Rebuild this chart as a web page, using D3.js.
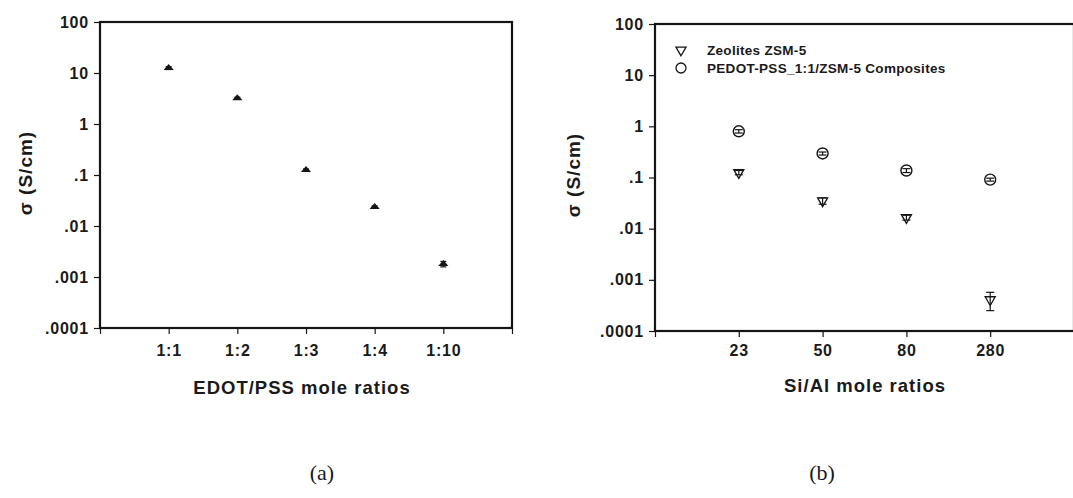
<!DOCTYPE html>
<html>
<head>
<meta charset="utf-8">
<script src="https://cdn.jsdelivr.net/npm/d3@7"></script>
<style>
  html, body { margin: 0; padding: 0; background: #fff; }
  svg text { font-family: "Liberation Sans", Arial, sans-serif; fill: #1a1a1a; }
</style>
</head>
<body>
<svg id="fig" width="1073" height="498"></svg>
<script>
// Panel (a): conductivity of PEDOT-PSS films vs EDOT/PSS mole ratio
const ratioCats = ["1:1", "1:2", "1:3", "1:4", "1:10"];
const ratioSigma = [12.5, 3.2, 0.125, 0.0235, 0.0018];
const ratioErr = [0.8, 0.15, 0.006, 0.0012, 0.00022];

// Panel (b): zeolites and composites vs Si/Al mole ratio
const siAlCats = ["23", "50", "80", "280"];
const zeoliteSigma = [0.125, 0.035, 0.0165, 0.00041];
const zeoliteErr = [0.012, 0.005, 0.0018, 0.00016];
const compositeSigma = [0.8, 0.295, 0.137, 0.091];
const compositeErr = [0.06, 0.02, 0.012, 0.006];

const yTickValues = [100, 10, 1, 0.1, 0.01, 0.001, 0.0001];
const yTickLabels = ["100", "10", "1", ".1", ".01", ".001", ".0001"];

const legendLabels = ["Zeolites ZSM-5", "PEDOT-PSS_1:1/ZSM-5 Composites"];
const captions = ["(a)", "(b)"];

const svg = d3.select("#fig");
const ink = "#151515";

function drawPanel(cfg) {
  const g = svg.append("g");
  const x = d3.scaleLinear().domain([-1, cfg.cats.length]).range([cfg.left, cfg.right]);
  const y = d3.scaleLog().domain([1e-4, 100]).range([cfg.bottom, cfg.top]);

  // y axis ticks and labels
  const yAxis = d3.axisLeft(y)
    .tickValues(yTickValues)
    .tickFormat((d, i) => yTickLabels[i])
    .tickSize(6)
    .tickPadding(5);
  const ya = g.append("g").attr("transform", `translate(${cfg.left},0)`).call(yAxis);
  ya.select(".domain").remove();
  ya.selectAll("line").attr("stroke", ink).attr("stroke-width", 1.2);
  ya.selectAll("text").attr("font-size", 16).attr("font-weight", "bold")
    .attr("letter-spacing", 0.8).attr("fill", ink);

  // x axis ticks and labels
  const xTicks = d3.range(-1, cfg.cats.length + 1);
  const xAxis = d3.axisBottom(x)
    .tickValues(xTicks)
    .tickFormat(d => (d >= 0 && d < cfg.cats.length) ? cfg.cats[d] : "")
    .tickSize(6)
    .tickPadding(cfg.xPad);
  const xa = g.append("g").attr("transform", `translate(0,${cfg.bottom})`).call(xAxis);
  xa.select(".domain").remove();
  xa.selectAll("line").attr("stroke", ink).attr("stroke-width", 1.2);
  xa.selectAll("text").attr("font-size", 16).attr("font-weight", "bold")
    .attr("letter-spacing", 0.8).attr("fill", ink);

  // plot frame
  g.append("rect")
    .attr("x", cfg.left).attr("y", cfg.top)
    .attr("width", cfg.right - cfg.left).attr("height", cfg.bottom - cfg.top)
    .attr("fill", "none").attr("stroke", ink).attr("stroke-width", 2.2);

  // axis titles
  g.append("text")
    .attr("transform", `translate(${cfg.yTitleX},${cfg.yTitleY}) rotate(-90)`)
    .attr("text-anchor", "middle").attr("dominant-baseline", "central")
    .attr("font-size", 19).attr("font-weight", "bold").attr("letter-spacing", 1)
    .attr("fill", ink)
    .text("σ (S/cm)");
  g.append("text")
    .attr("x", cfg.xTitleX).attr("y", cfg.xTitleY)
    .attr("text-anchor", "middle")
    .attr("font-size", 18.5).attr("font-weight", "bold").attr("letter-spacing", 1)
    .attr("fill", ink)
    .text(cfg.xTitle);

  return { g, x, y };
}

function errorBars(g, x, y, vals, errs, cap) {
  vals.forEach((v, i) => {
    const cx = x(i), y1 = y(v + errs[i]), y2 = y(Math.max(v - errs[i], 1e-5));
    g.append("line").attr("x1", cx).attr("x2", cx).attr("y1", y1).attr("y2", y2)
      .attr("stroke", ink).attr("stroke-width", 1.2);
    [y1, y2].forEach(yy => g.append("line")
      .attr("x1", cx - cap).attr("x2", cx + cap).attr("y1", yy).attr("y2", yy)
      .attr("stroke", ink).attr("stroke-width", 1.2));
  });
}

// ---- panel (a)
const A = drawPanel({
  cats: ratioCats, left: 100, right: 512, top: 22, bottom: 328,
  xPad: 11, yTitleX: 25, yTitleY: 173, xTitle: "EDOT/PSS mole ratios", xTitleX: 302, xTitleY: 394
});
errorBars(A.g, A.x, A.y, ratioSigma, ratioErr, 3);
A.g.selectAll(".tri").data(ratioSigma).join("path")
  .attr("d", d3.symbol(d3.symbolTriangle, 34))
  .attr("transform", (d, i) => `translate(${A.x(i)},${A.y(d)}) scale(1.15,0.8)`)
  .attr("fill", ink);

// ---- panel (b)
const B = drawPanel({
  cats: siAlCats, left: 655, right: 1074, top: 24, bottom: 331,
  xPad: 8, yTitleX: 573, yTitleY: 175, xTitle: "Si/Al mole ratios", xTitleX: 865, xTitleY: 392
});
errorBars(B.g, B.x, B.y, zeoliteSigma, zeoliteErr, 4);
errorBars(B.g, B.x, B.y, compositeSigma, compositeErr, 4);

const downTri = d3.symbol(d3.symbolTriangle, 44);
B.g.selectAll(".zeo").data(zeoliteSigma).join("path")
  .attr("d", downTri)
  .attr("transform", (d, i) => `translate(${B.x(i)},${B.y(d)}) rotate(180)`)
  .attr("fill", "none").attr("stroke", ink).attr("stroke-width", 1.3);
B.g.selectAll(".comp").data(compositeSigma).join("circle")
  .attr("cx", (d, i) => B.x(i)).attr("cy", d => B.y(d)).attr("r", 5.5)
  .attr("fill", "none").attr("stroke", ink).attr("stroke-width", 1.4);

// legend
const leg = B.g.append("g");
leg.append("path").attr("d", downTri)
  .attr("transform", "translate(681,50) rotate(180)")
  .attr("fill", "none").attr("stroke", ink).attr("stroke-width", 1.3);
leg.append("circle").attr("cx", 681).attr("cy", 68).attr("r", 5)
  .attr("fill", "none").attr("stroke", ink).attr("stroke-width", 1.3);
legendLabels.forEach((t, i) => leg.append("text")
  .attr("x", 707).attr("y", 50 + i * 18).attr("dominant-baseline", "central")
  .attr("font-size", 13.5).attr("font-weight", "bold").attr("letter-spacing", 0.3)
  .attr("fill", ink).text(t));

// captions
[322, 822].forEach((cx, i) => svg.append("text")
  .attr("x", cx).attr("y", 480).attr("text-anchor", "middle")
  .style("font-family", "'Liberation Serif', 'Times New Roman', serif")
  .attr("font-size", 22).attr("fill", "#111").text(captions[i]));
</script>
</body>
</html>
